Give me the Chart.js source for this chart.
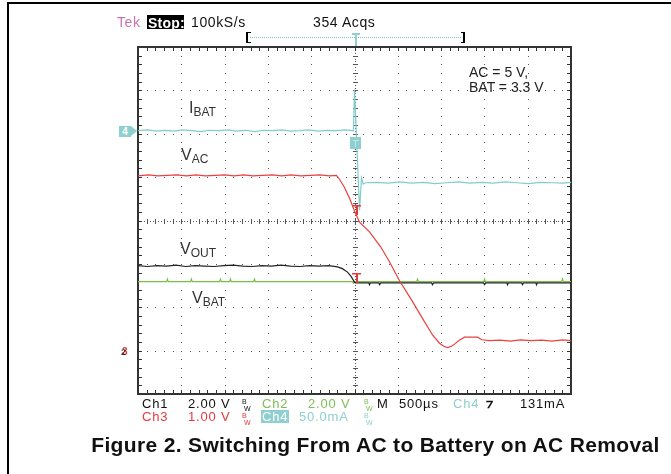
<!DOCTYPE html>
<html>
<head>
<meta charset="utf-8">
<script src="https://cdn.jsdelivr.net/npm/chart.js@4.4.0/dist/chart.umd.min.js"></script>
<style>
body{margin:0;background:#fff;}
#page{position:relative;width:671px;height:474px;overflow:hidden;font-family:"Liberation Sans",Arial,sans-serif;}
#scope{position:absolute;left:0;top:0;}
.t{position:absolute;white-space:nowrap;line-height:1;}
.hd{font-size:14px;letter-spacing:0.6px;color:#111;}
.ft{font-size:13px;letter-spacing:0.8px;}
.lbl{font-size:16px;color:#333;}
.lbl sub{font-size:12px;vertical-align:-3px;}
.note{font-size:14px;color:#222;}
.bw{font-size:7px;line-height:1;}
.cyan{color:#8fcfcf;}
.green{color:#7cbf55;}
.red{color:#e8383b;}
.blk{color:#111;}
</style>
</head>
<body>
<div id="page">
  <canvas id="scope" width="671" height="474"></canvas>

  <!-- frame -->
  <div class="t" style="left:8px;top:2px;width:663px;height:2px;background:#000;"></div>
  <div class="t" style="left:7px;top:2px;width:2px;height:472px;background:#000;"></div>

  <!-- header -->
  <div class="t hd" style="left:117px;top:15px;color:#c875b4;">Tek</div>
  <div class="t" style="left:147px;top:15px;width:37px;height:14px;background:#000;"></div>
  <div class="t hd" style="left:148px;top:15.5px;color:#fff;font-weight:bold;letter-spacing:0.2px;">Stop:</div>
  <div class="t hd" style="left:191px;top:15px;">100kS/s</div>
  <div class="t hd" style="left:313px;top:15px;">354 Acqs</div>
  <div class="t" style="left:246px;top:32px;width:3px;height:9px;border:2px solid #000;border-right:none;border-top-width:1.5px;border-bottom-width:1.5px;"></div>
  <div class="t" style="left:250px;top:37px;width:211px;height:0;border-top:1px dotted #7cc8c8;"></div>
  <div class="t" style="left:461px;top:32px;width:2px;height:9px;border:2px solid #000;border-left:none;border-top-width:1.5px;border-bottom-width:1.5px;"></div>
  <div class="t" style="left:352px;top:33px;width:8px;height:2px;background:#8fcfcf;"></div>
  <div class="t" style="left:355px;top:33px;width:2px;height:13px;background:#8fcfcf;"></div>

  <!-- channel markers on the left -->
  <div class="t" style="left:119px;top:126px;width:12px;height:11px;background:#8fcfcf;color:#fff;font-size:10px;font-weight:bold;text-align:center;line-height:11px;">4</div>
  <div class="t" style="left:131px;top:126px;width:0;height:0;border-left:6px solid #8fcfcf;border-top:5.5px solid transparent;border-bottom:5.5px solid transparent;"></div>
  <div class="t red" style="left:122px;top:347px;font-size:10px;font-weight:bold;">3</div>
  <div class="t blk" style="left:121px;top:348px;font-size:9px;font-weight:bold;opacity:0.8;">2</div>

  <!-- trace labels -->
  <div class="t lbl" style="left:189px;top:99.5px;">I<sub>BAT</sub></div>
  <div class="t lbl" style="left:181px;top:147px;">V<sub>AC</sub></div>
  <div class="t lbl" style="left:180px;top:240.5px;">V<sub>OUT</sub></div>
  <div class="t lbl" style="left:192px;top:289.5px;">V<sub>BAT</sub></div>
  <div class="t note" style="left:469px;top:65px;">AC = 5 V,</div>
  <div class="t note" style="left:469px;top:80px;">BAT = 3.3 V</div>

  <!-- readout row 1 -->
  <div class="t ft blk" style="left:142px;top:396.5px;">Ch1</div>
  <div class="t ft blk" style="left:188px;top:396.5px;">2.00 V</div>
  <div class="t bw blk" style="left:242px;top:398px;">B<br>&nbsp;W</div>
  <div class="t ft green" style="left:262px;top:396.5px;">Ch2</div>
  <div class="t ft green" style="left:308px;top:396.5px;">2.00 V</div>
  <div class="t bw green" style="left:364px;top:398px;">B<br>&nbsp;W</div>
  <div class="t ft blk" style="left:377px;top:396.5px;">M</div>
  <div class="t ft blk" style="left:399px;top:396.5px;">500µs</div>
  <div class="t ft cyan" style="left:453px;top:396.5px;">Ch4</div>
  <div class="t ft blk" style="left:486px;top:396.5px;font-weight:bold;">⁊</div>
  <div class="t ft blk" style="left:520px;top:396.5px;">131mA</div>

  <!-- readout row 2 -->
  <div class="t ft red" style="left:142px;top:410px;">Ch3</div>
  <div class="t ft red" style="left:188px;top:410px;">1.00 V</div>
  <div class="t bw red" style="left:242px;top:411.5px;">B<br>&nbsp;W</div>
  <div class="t" style="left:261px;top:410px;width:28px;height:13px;background:#8fcfcf;"></div>
  <div class="t ft" style="left:262px;top:410px;color:#fff;">Ch4</div>
  <div class="t ft cyan" style="left:299px;top:410px;">50.0mA</div>
  <div class="t bw cyan" style="left:364px;top:411.5px;">B<br>&nbsp;W</div>

  <!-- caption -->
  <div class="t" style="left:0;width:751px;text-align:center;top:434px;font-size:21px;font-weight:bold;letter-spacing:0.35px;color:#111;">Figure 2. Switching From AC to Battery on AC Removal</div>
</div>

<script>
/* ==========================================================
   SCOPE DATA  (time in µs, level in screen divisions)
========================================================== */

const iBatTime = [-2500,-2390,-2290,-2180,-2080,-1990,-1880,-1770,-1680,-1570,-1460,-1370,-1260,-1150,-1050,-950,-840,-740,-630,-530,-420,-320,-210,-110,-12,
    0,58,81,100,127,
    260,390,520,660,790,930,1060,1200,1330,1470,1600,1740,1870,2010,2140,2280,2400,2500];
const iBatDiv = [2.07,2.09,2.06,2.08,2.06,2.09,2.07,2.05,2.08,2.07,2.09,2.06,2.08,2.05,2.08,2.07,2.09,2.06,2.07,2.09,2.06,2.08,2.07,2.09,2.07,
    3.02,0.24,0.98,0.84,0.87,
    0.88,0.86,0.89,0.86,0.88,0.85,0.87,0.89,0.86,0.88,0.86,0.89,0.87,0.85,0.88,0.87,0.86,0.88];

const vAcTime = [-2500,-2380,-2270,-2160,-2050,-1940,-1830,-1720,-1610,-1500,-1390,-1280,-1170,-1060,-950,-840,-730,-620,-510,-400,-290,-208,
    -170,-120,-58,0,58,173,300,404,520,658,780,901,982,1030,1074,1120,1155,1210,1270,1330,1420,1470,1559,
    1680,1800,1920,2040,2160,2280,2400,2500];
const vAcDiv = [1.03,1.05,1.03,1.04,1.05,1.03,1.05,1.03,1.04,1.05,1.03,1.05,1.03,1.04,1.05,1.03,1.05,1.03,1.04,1.05,1.03,1.04,
    0.94,0.78,0.52,0.22,-0.04,-0.26,-0.60,-0.95,-1.39,-1.83,-2.24,-2.64,-2.83,-2.90,-2.93,-2.90,-2.85,-2.76,-2.69,-2.69,-2.69,-2.75,-2.77,
    -2.76,-2.78,-2.75,-2.77,-2.76,-2.78,-2.75,-2.77];

const vOutTime = [-2500,-2390,-2280,-2170,-2060,-1950,-1840,-1730,-1620,-1510,-1400,-1290,-1180,-1070,-960,-850,-740,-630,-520,-410,-300,
    -254,-196,-140,-81,-40,0,12,
    165,173,181,280,290,300,890,901,912,1490,1502,1514,1760,1767,1775,1930,1940,1950,2095,2102,2110,2500];
const vOutDiv = [-1.04,-1.06,-1.04,-1.05,-1.03,-1.06,-1.04,-1.05,-1.06,-1.04,-1.03,-1.05,-1.06,-1.04,-1.05,-1.03,-1.05,-1.06,-1.04,-1.05,-1.04,
    -1.05,-1.07,-1.11,-1.19,-1.29,-1.42,-1.44,
    -1.44,-1.48,-1.44,-1.44,-1.48,-1.44,-1.44,-1.48,-1.44,-1.44,-1.48,-1.44,-1.44,-1.48,-1.44,-1.44,-1.48,-1.44,-1.44,-1.48,-1.44,-1.44];

const vBatTime = [-2500,-2170,-2160,-2150,-1893,-1883,-1873,-1558,-1548,-1538,-1442,-1432,-1422,-1165,-1155,-1145,
    -30,-10,10,718,728,738,1492,1502,1512,2392,2402,2412,2500];
const vBatDiv = [-1.41,-1.41,-1.35,-1.41,-1.41,-1.35,-1.41,-1.41,-1.35,-1.41,-1.41,-1.35,-1.41,-1.41,-1.35,-1.41,
    -1.41,-1.45,-1.41,-1.41,-1.35,-1.41,-1.41,-1.35,-1.41,-1.41,-1.35,-1.41,-1.41];

const timeMajor = [-2000,-1500,-1000,-500,500,1000,1500,2000];
const divMajor = [-3,-2,-1,1,2,3];


/* ==========================================================
   HELPERS
========================================================== */

function toPoints(xs, ys){
    return xs.map((x, i) => ({x:x, y:ys[i]}));
}

function trace(label, xs, ys, colour){
    return {
        label:label,
        data:toPoints(xs, ys),
        showLine:true,
        borderColor:colour,
        borderWidth:1.2,
        pointRadius:0,
        tension:0,
        fill:false
    };
}


/* ==========================================================
   SCOPE GRATICULE
========================================================== */

const graticule = {
    id:"graticule",
    beforeDatasetsDraw(chart){
        const {ctx, chartArea:a, scales:{x, y}} = chart;
        ctx.save();
        ctx.fillStyle = "#555";

        // dotted division lines
        timeMajor.forEach(t => {
            const px = Math.round(x.getPixelForValue(t));
            for(let k = -20; k <= 20; k++){
                ctx.fillRect(px, Math.round(y.getPixelForValue(k / 5)), 1, 1);
            }
        });
        divMajor.forEach(d => {
            const py = Math.round(y.getPixelForValue(d));
            for(let k = -25; k <= 25; k++){
                ctx.fillRect(Math.round(x.getPixelForValue(k * 100)), py, 1, 1);
            }
        });

        // centre cross, finer dots plus small ticks
        const cx = Math.round(x.getPixelForValue(0));
        const cy = Math.round(y.getPixelForValue(0));
        for(let py = a.top; py < a.bottom; py += 2.9){
            ctx.fillRect(cx, Math.round(py), 1, 1);
        }
        for(let px = a.left; px < a.right; px += 2.9){
            ctx.fillRect(Math.round(px), cy, 1, 1);
        }
        for(let k = -20; k <= 20; k++){
            ctx.fillRect(cx - 2, Math.round(y.getPixelForValue(k / 5)), 5, 1);
        }
        for(let k = -25; k <= 25; k++){
            ctx.fillRect(Math.round(x.getPixelForValue(k * 100)), cy - 2, 1, 5);
        }

        // border with inward ticks
        ctx.fillStyle = "#333";
        for(let k = -25; k <= 25; k++){
            const px = Math.round(x.getPixelForValue(k * 100));
            ctx.fillRect(px, a.top, 1, 4);
            ctx.fillRect(px, a.bottom - 4, 1, 4);
        }
        for(let k = -20; k <= 20; k++){
            const py = Math.round(y.getPixelForValue(k / 5));
            ctx.fillRect(a.left, py, 4, 1);
            ctx.fillRect(a.right - 4, py, 4, 1);
        }
        ctx.strokeStyle = "#333";
        ctx.lineWidth = 2;
        ctx.strokeRect(a.left, a.top, a.right - a.left, a.bottom - a.top);
        ctx.restore();
    },
    afterDatasetsDraw(chart){
        const {ctx, scales:{x, y}} = chart;
        ctx.save();

        // channel reference markers at the trigger point
        ctx.fillStyle = "#e8383b";
        [[0.36, 0.13], [-1.21, -1.44]].forEach(([top, bottom]) => {
            const px = Math.round(x.getPixelForValue(15));
            const y0 = Math.round(y.getPixelForValue(top));
            const y1 = Math.round(y.getPixelForValue(bottom));
            ctx.fillRect(px - 4, y0, 9, 1.5);
            ctx.fillRect(px, y0, 2, y1 - y0);
        });

        // trigger level box
        const tx = x.getPixelForValue(20);
        const ty = y.getPixelForValue(1.79);
        ctx.fillStyle = "#8fcfcf";
        ctx.fillRect(Math.round(tx - 6), Math.round(ty - 6), 11, 12);
        ctx.fillStyle = "#bfe6e6";
        ctx.fillRect(Math.round(tx - 3), Math.round(ty - 3), 6, 1);
        ctx.fillRect(Math.round(tx - 1), Math.round(ty - 3), 1, 7);
        ctx.restore();
    }
};


/* ==========================================================
   DRAW
========================================================== */

new Chart(
    document.getElementById("scope"),
    {
        type:"scatter",
        data:{
            datasets:[
                trace("VAC", vAcTime, vAcDiv, "#e8413e"),
                trace("VOUT", vOutTime, vOutDiv, "#222"),
                trace("VBAT", vBatTime, vBatDiv, "#79bf4a"),
                trace("IBAT", iBatTime, iBatDiv, "#82cccc")
            ]
        },
        options:{
            responsive:false,
            animation:false,
            devicePixelRatio:1,
            layout:{
                padding:{left:138, right:100, top:47, bottom:80}
            },
            scales:{
                x:{type:"linear", min:-2500, max:2500, display:false},
                y:{type:"linear", min:-4, max:4, display:false}
            },
            plugins:{
                legend:{display:false},
                tooltip:{enabled:false}
            }
        },
        plugins:[graticule]
    }
);
</script>
</body>
</html>
